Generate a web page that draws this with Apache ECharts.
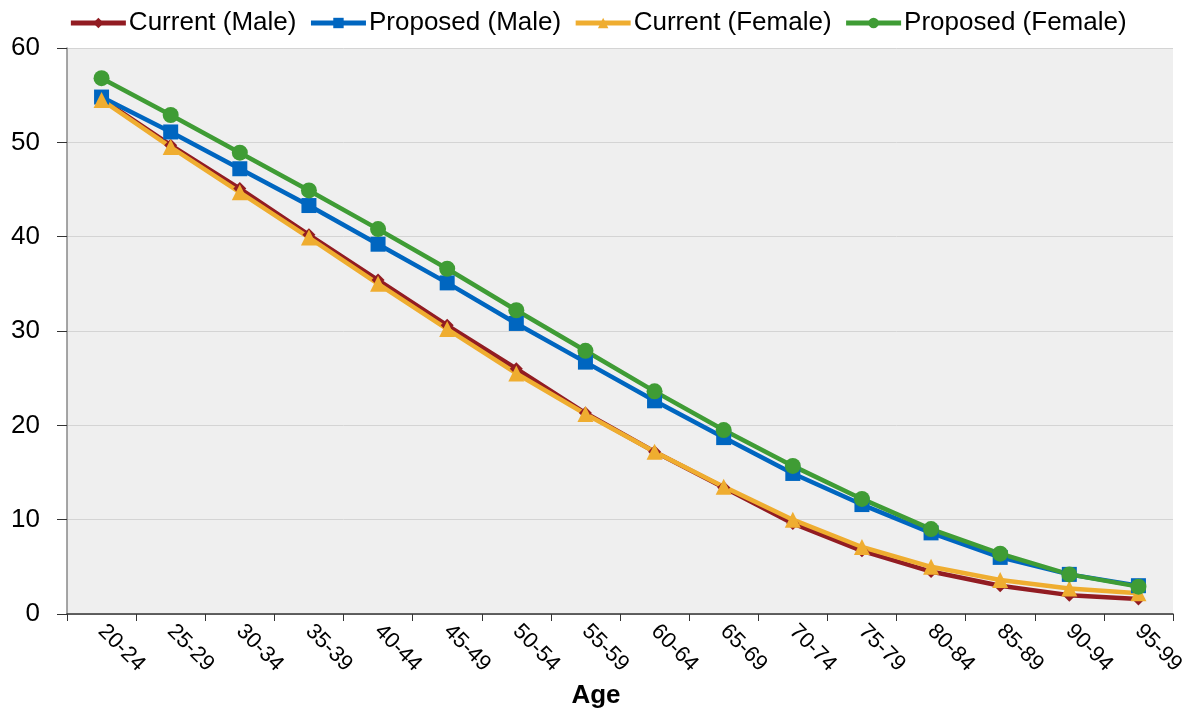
<!DOCTYPE html>
<html><head><meta charset="utf-8">
<script src="https://cdn.jsdelivr.net/npm/echarts@6/dist/echarts.min.js"></script>
<style>html,body{margin:0;padding:0;background:#fff}#c{width:1195px;height:717px}</style>
</head><body><div id="c"></div>
<script>
const categories = ['20-24','25-29','30-34','35-39','40-44','45-49','50-54','55-59','60-64','65-69','70-74','75-79','80-84','85-89','90-94','95-99'];
const currentMale = [54.6,49.7,45.1,40.2,35.4,30.6,26.0,21.3,17.2,13.4,9.6,6.7,4.5,3.0,2.0,1.6];
const proposedMale = [54.8,51.1,47.2,43.3,39.2,35.1,30.8,26.7,22.6,18.7,14.9,11.6,8.6,6.0,4.2,3.0];
const currentFemale = [54.5,49.5,44.7,39.9,35.0,30.2,25.5,21.2,17.2,13.5,10.0,7.1,5.0,3.6,2.7,2.2];
const proposedFemale = [56.8,52.9,48.9,44.9,40.8,36.6,32.2,27.9,23.6,19.5,15.7,12.2,9.0,6.4,4.2,2.9];
const yTicks = [0,10,20,30,40,50,60];

const font = '"Liberation Sans",Arial,sans-serif';
function s(name, data, color, symbol, size){
  return {name, type:'line', data, symbol, symbolSize:size, showSymbol:true,
    lineStyle:{color, width:4.5}, itemStyle:{color}, z: 3};
}
const chart = echarts.init(document.getElementById('c'));
chart.setOption({
  animation:false,
  textStyle:{fontFamily:font},
  legend:{top:5, left:'center', itemWidth:55, itemHeight:13, itemGap:12,
    lineStyle:{width:5},
    textStyle:{fontSize:26, color:'#000', fontFamily:font, padding:[0,0,0,-2]},
    data:['Current (Male)','Proposed (Male)','Current (Female)','Proposed (Female)']},
  grid:{left:67, right:22, top:48, bottom:103, show:true, backgroundColor:'#efefef', borderWidth:0},
  xAxis:{type:'category', data:categories, boundaryGap:true,
    name:'Age', nameLocation:'middle', nameGap:68,
    nameTextStyle:{fontSize:26, fontWeight:'bold', color:'#000', fontFamily:font, padding:[0,48,0,0]},
    axisLine:{lineStyle:{color:'#333', width:1.5}},
    axisTick:{show:true, length:7, lineStyle:{color:'#333'}, alignWithLabel:false},
    axisLabel:{rotate:-45, fontSize:22, color:'#000', margin:14, fontFamily:font},
    splitLine:{show:false}},
  yAxis:{type:'value', min:0, max:60, interval:10,
    axisLine:{show:true, lineStyle:{color:'#888', width:1.5}},
    axisTick:{show:true, length:10, lineStyle:{color:'#333'}},
    axisLabel:{fontSize:26, color:'#000', margin:27, fontFamily:font,
      formatter:v=> yTicks.includes(v)? String(v):''},
    splitLine:{show:true, lineStyle:{color:'#d4d4d4', width:1}}},
  series:[
    s('Current (Male)', currentMale, '#921c22', 'diamond', 13),
    s('Proposed (Male)', proposedMale, '#0066c0', 'rect', 15),
    s('Current (Female)', currentFemale, '#efad30', 'triangle', 16),
    s('Proposed (Female)', proposedFemale, '#3f9c35', 'circle', 16)
  ]
});
</script></body></html>
